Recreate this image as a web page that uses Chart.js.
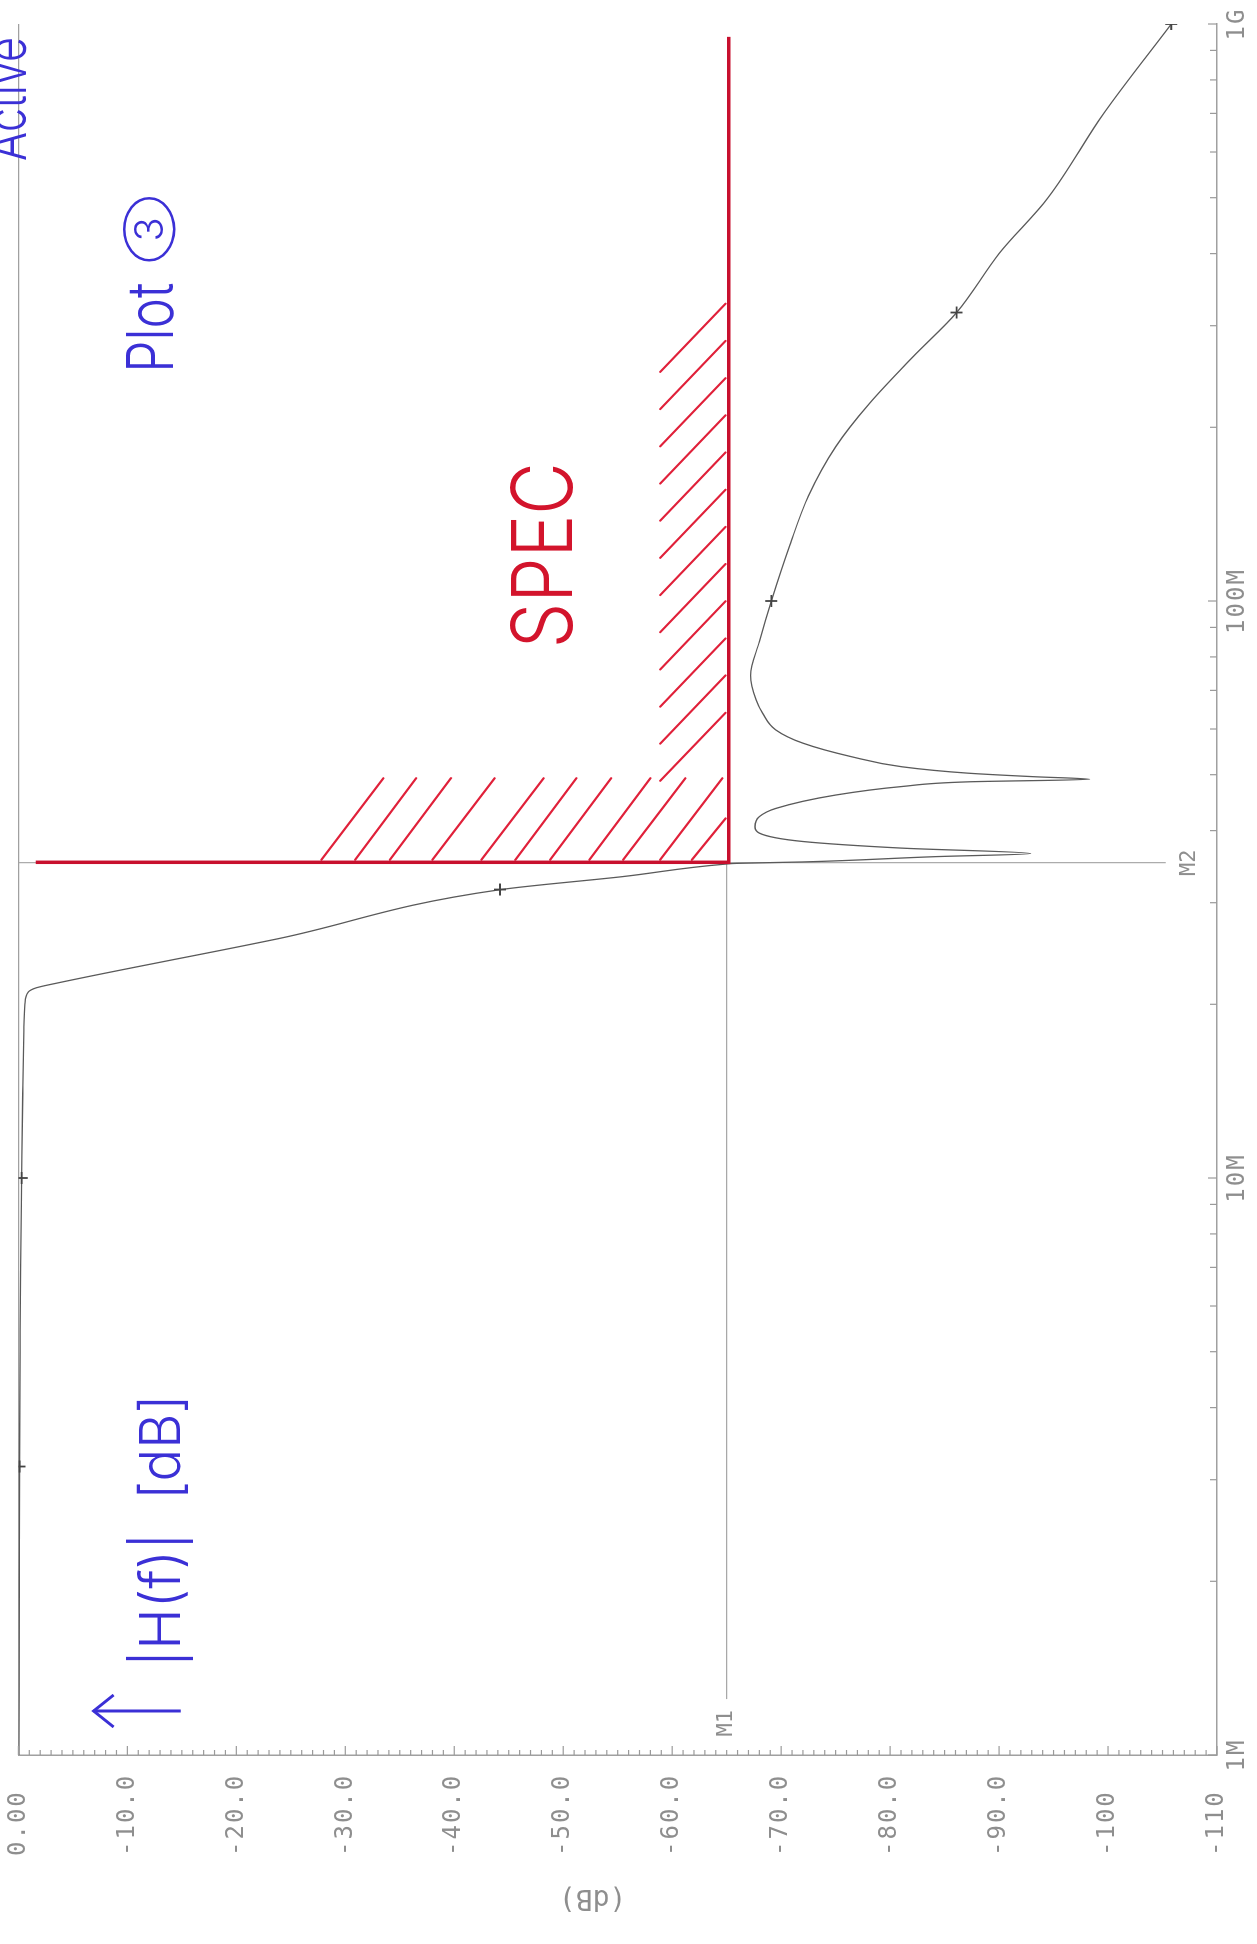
<!DOCTYPE html>
<html><head><meta charset="utf-8">
<script src="https://cdn.jsdelivr.net/npm/chart.js@4.4.1/dist/chart.umd.min.js"></script>
<style>
html,body{margin:0;padding:0;background:#fff;overflow:hidden;width:1257px;height:1944px;}
#wrap{position:absolute;left:0;top:0;width:1944px;height:1257px;transform-origin:0 0;transform:translateY(1944px) rotate(-90deg);}
canvas{display:block;}
</style></head><body>
<div id="wrap"><canvas id="c" width="1944" height="1257"></canvas></div>
<script>
// ---- data (frequency in MHz, magnitude in dB) ----
const freqMHz = [1, 2, 3.16, 5, 7, 10, 14, 18, 20, 21, 21.35, 21.76, 26, 31.6, 33.3, 35.0, 35.1, 35.3, 36.05, 36.5, 37.3, 38.3, 39.6, 40.6, 42.3, 43.7, 46.1, 47.7, 48.6, 49.1, 49.6, 50.3, 51.6, 53.7, 56.7, 59.8, 63.9, 67.4, 74.3, 85, 100, 125, 152, 185, 220, 265, 316, 400, 500, 700, 1000];
const gainDb  = [-0.05, -0.08, -0.1, -0.15, -0.2, -0.3, -0.4, -0.5, -0.6, -0.9, -1.6, -3.5, -23.9, -44.2, -55.5, -64.9, -65.9, -72.0, -84.1, -92.9, -81.1, -72.0, -68.0, -67.6, -68.0, -69.5, -75.0, -81.1, -87.2, -98.3, -93.2, -87.2, -81.1, -76.5, -72.0, -69.5, -68.3, -67.7, -67.2, -68.0, -69.1, -70.8, -72.5, -75.0, -78.1, -82.1, -86.1, -90.0, -94.5, -99.6, -105.8];
const markerFreq = [3.162, 10, 31.62, 100, 316.2, 1000];
const markerDb   = [-0.1, -0.3, -44.2, -69.1, -86.1, -105.8];
const specFreq = [35.25, 35.25, 950];
const specDb   = [-1.6, -65.2, -65.2];
const m1Freq = [1.25, 35.25];
const m1Db   = [-65, -65];
const m2Freq = [35.2, 35.2];
const m2Db   = [0, -105.3];
// hand-drawn hatch strokes: [f1, dB1, f2, dB2]
const hatchStrokes = [
  [35.6, -27.8, 49.3, -33.5], [35.6, -30.9, 49.3, -36.5], [35.6, -34.1, 49.3, -39.7],
  [35.6, -38.0, 49.3, -43.7], [35.6, -42.5, 49.3, -48.2], [35.6, -45.6, 49.3, -51.2],
  [35.6, -48.8, 49.3, -54.4], [35.6, -52.4, 49.3, -58.0], [35.6, -55.5, 49.3, -61.2],
  [35.6, -58.9, 49.3, -64.6], [35.6, -61.8, 42.0, -64.9],
  [249.5, -58.9, 327.5, -64.9], [215.1, -58.9, 282.3, -64.9], [185.4, -58.9, 243.3, -64.9],
  [159.8, -58.9, 209.8, -64.9], [137.8, -58.9, 180.9, -64.9], [118.8, -58.9, 155.9, -64.9],
  [102.4, -58.9, 134.4, -64.9], [88.3, -58.9, 115.9, -64.9], [76.1, -58.9, 99.9, -64.9],
  [65.6, -58.9, 86.1, -64.9], [56.6, -58.9, 74.3, -64.9], [48.8, -58.9, 64.0, -64.9]
];
const freqTickValues = [1, 10, 100, 1000];
const freqTickLabels = ['1M', '10M', '100M', '1G'];
const freqMinorTicks = [2,3,4,5,6,7,8,9,20,30,40,50,60,70,80,90,200,300,400,500,600,700,800,900];
const dbTickValues = [0, -10, -20, -30, -40, -50, -60, -70, -80, -90, -100, -110];
const dbTickLabels = ['0.00', '-10.0', '-20.0', '-30.0', '-40.0', '-50.0', '-60.0', '-70.0', '-80.0', '-90.0', '-100', '-110'];
// annotation anchors (MHz, dB) - left/baseline of text
const notes = [
  {text: 'SPEC', f: 82.8, db: -50.8, size: 84, color: '#d3142c', width: 186},
  {text: 'Plot', f: 248.7, db: -14.2, size: 64, color: '#3b30d6', width: 90},
  {text: 'Active', f: 579, db: -0.7, size: 56, color: '#3b30d6', width: 124},
  {text: '|H(f)|', f: 1.42, db: -14.8, size: 56, color: '#3b30d6', width: 161},
  {text: '[dB]', f: 2.77, db: -14.8, size: 56, color: '#3b30d6', width: 105}
];
const circleNote = {text: '3', f: 440.8, db: -12.0};
const arrowNote = {f: 1.192, dbTail: -14.9, dbTip: -6.9};

const pts = (fs, ds) => fs.map((f, i) => ({x: f, y: ds[i]}));
const hatchData = [];
hatchStrokes.forEach(s => { hatchData.push({x: s[0], y: s[1]}, {x: s[2], y: s[3]}, {x: s[2], y: null}); });

const GRAY = '#8e8e8e';
const HAND = '"Inter", "Lato", "Liberation Sans"';
const annotPlugin = {
  id: 'annot',
  beforeDraw(chart) { chart.ctx.letterSpacing = '2px'; },
  afterDatasetsDraw(chart) {
    const {ctx, chartArea: a, scales: {x, y}} = chart;
    const px = v => x.getPixelForValue(v), py = v => y.getPixelForValue(v);
    ctx.save();
    ctx.letterSpacing = '0px';
    ctx.strokeStyle = '#9a9a9a';
    ctx.lineWidth = 1.2;
    // inward frequency ticks
    freqTickValues.concat(freqMinorTicks).forEach(v => {
      const p = px(v);
      ctx.beginPath(); ctx.moveTo(p, a.bottom); ctx.lineTo(p, a.bottom - (freqTickValues.includes(v) ? 9 : 7)); ctx.stroke();
    });
    // inward dB ticks
    for (let v = 0; v >= -110; v -= 1) {
      const p = py(v);
      const len = (v % 10 === 0) ? 9 : 5;
      ctx.beginPath(); ctx.moveTo(a.left, p); ctx.lineTo(a.left + len, p); ctx.stroke();
    }
    // marker labels
    ctx.fillStyle = GRAY;
    ctx.font = '22px "DejaVu Sans Mono"';
    ctx.textAlign = 'center'; ctx.textBaseline = 'middle';
    ctx.fillText('M1', px(1.135), py(-65));
    ctx.fillText('M2', px(35.2), py(-107.5));
    // axis title (dB)
    ctx.save();
    ctx.translate(47, py(-52.7));
    ctx.rotate(-Math.PI / 2);
    ctx.font = '28px "DejaVu Sans Mono"';
    ctx.fillText('(dB)', 0, 0);
    ctx.restore();
    // handwritten notes
    ctx.textAlign = 'left'; ctx.textBaseline = 'alphabetic';
    notes.forEach(n => {
      ctx.fillStyle = n.color;
      ctx.font = '300 ' + n.size + 'px ' + HAND;
      ctx.fillText(n.text, px(n.f), py(n.db), n.width);
    });
    // circled 3
    ctx.strokeStyle = '#3b30d6'; ctx.fillStyle = '#3b30d6'; ctx.lineWidth = 2.5;
    const cx = px(circleNote.f), cy = py(circleNote.db);
    ctx.beginPath(); ctx.ellipse(cx, cy, 31, 25, 0, 0, Math.PI * 2); ctx.stroke();
    ctx.font = '300 40px ' + HAND; ctx.textAlign = 'center'; ctx.textBaseline = 'middle';
    ctx.fillText(circleNote.text, cx, cy + 2);
    // up arrow
    const ax = px(arrowNote.f), ay1 = py(arrowNote.dbTail), ay0 = py(arrowNote.dbTip);
    ctx.lineWidth = 3;
    ctx.beginPath(); ctx.moveTo(ax, ay1); ctx.lineTo(ax, ay0); ctx.stroke();
    ctx.beginPath(); ctx.moveTo(ax - 16, ay0 + 20); ctx.lineTo(ax, ay0); ctx.lineTo(ax + 16, ay0 + 20); ctx.stroke();
    ctx.restore();
  }
};

new Chart(document.getElementById('c'), {
  type: 'scatter',
  data: {
    datasets: [
      {label: 'spec', data: pts(specFreq, specDb), showLine: true, borderColor: '#c8102e', borderWidth: 3.5, pointRadius: 0},
      {label: 'hatch', data: hatchData, showLine: true, spanGaps: false, borderColor: '#e0213a', borderWidth: 2.2, pointRadius: 0, borderCapStyle: 'round'},
      {label: 'markers', data: pts(markerFreq, markerDb), showLine: false, pointStyle: 'cross', pointRadius: 6, borderColor: '#444', borderWidth: 1.8},
      {label: '|H(f)|', data: pts(freqMHz, gainDb), showLine: true, borderColor: '#5a5a5a', borderWidth: 1.3, pointRadius: 0, cubicInterpolationMode: 'monotone'},
      {label: 'M1', data: pts(m1Freq, m1Db), showLine: true, borderColor: '#a8a8a8', borderWidth: 1.2, pointRadius: 0},
      {label: 'M2', data: pts(m2Freq, m2Db), showLine: true, borderColor: '#a8a8a8', borderWidth: 1.2, pointRadius: 0}
    ]
  },
  options: {
    responsive: false, animation: false, devicePixelRatio: 1,
    layout: {padding: {left: 88, right: 24, top: 11, bottom: 0}},
    plugins: {legend: {display: false}, tooltip: {enabled: false}},
    scales: {
      x: {
        type: 'logarithmic', position: 'bottom', min: 1, max: 1000,
        afterBuildTicks: s => { s.ticks = freqTickValues.map(v => ({value: v})); },
        afterFit: s => { s.height = 40; },
        ticks: {autoSkip: false, maxRotation: 0, minRotation: 0, padding: 6, color: GRAY,
          font: {family: 'DejaVu Sans Mono', size: 24},
          callback: v => { const i = freqTickValues.indexOf(v); return i >= 0 ? freqTickLabels[i] : ''; }},
        grid: {display: false, drawTicks: false},
        border: {display: true, color: '#a0a0a0', width: 1.5}
      },
      y: {
        type: 'linear', position: 'left', min: -110, max: 0,
        afterBuildTicks: s => { s.ticks = dbTickValues.map(v => ({value: v})); },
        afterFit: s => { s.width = 101; },
        ticks: {crossAlign: 'far', padding: 4, color: GRAY,
          font: {family: 'DejaVu Sans Mono', size: 24},
          callback: v => { const i = dbTickValues.indexOf(v); return i >= 0 ? dbTickLabels[i] : ''; }},
        grid: {display: true, drawTicks: false, lineWidth: 1.2,
          color: c => (c.tick && c.tick.value === 0) ? '#a0a0a0' : 'rgba(0,0,0,0)'},
        border: {display: true, color: '#a0a0a0', width: 1.5}
      }
    }
  },
  plugins: [annotPlugin]
});
</script>
</body></html>
